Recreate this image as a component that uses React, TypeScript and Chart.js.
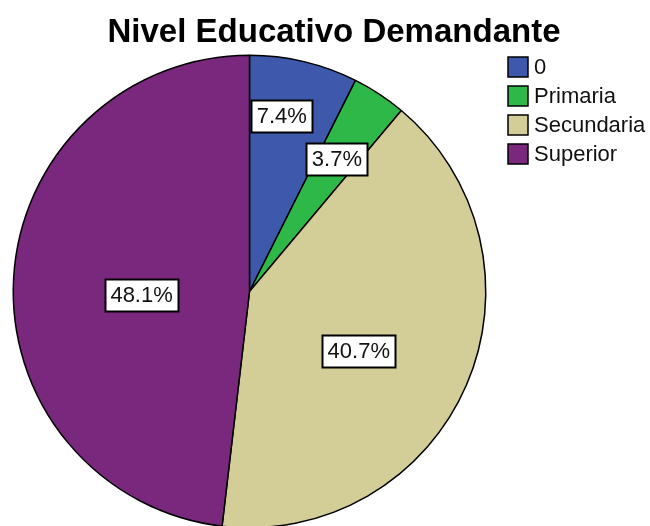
import React, { useEffect, useRef } from "react";
import { Chart, registerables } from "chart.js";

Chart.register(...registerables);

const TITLE = "Nivel Educativo Demandante";
const CATEGORIES = ["0", "Primaria", "Secundaria", "Superior"];
const PERCENTS = [7.4, 3.7, 40.7, 48.1];
const LABELS = ["7.4%", "3.7%", "40.7%", "48.1%"];
const COLORS = ["#3E58AC", "#2EB848", "#D3CE97", "#79287D"];

// label placement inside each slice: fraction along the arc angle, fraction of radius
const LABEL_ANGLE_FRAC = [0.39, 0.5, 0.536, 0.47];
const LABEL_RADIUS_FRAC = [0.757, 0.673, 0.527, 0.457];

const FONT = "'Liberation Sans', Arial, sans-serif";

const overlayPlugin = {
  id: "overlay",
  afterDraw(chart: any) {
    const ctx = chart.ctx as CanvasRenderingContext2D;
    ctx.save();
    // title
    ctx.fillStyle = "#000";
    ctx.font = `bold 33px ${FONT}`;
    ctx.textAlign = "center";
    ctx.textBaseline = "alphabetic";
    ctx.fillText(TITLE, 334, 42);

    // legend
    ctx.font = `22px ${FONT}`;
    ctx.textAlign = "left";
    ctx.textBaseline = "middle";
    CATEGORIES.forEach((c, i) => {
      const cy = 67 + i * 29;
      ctx.fillStyle = COLORS[i];
      ctx.fillRect(508, cy - 10, 20, 20);
      ctx.strokeStyle = "#000";
      ctx.lineWidth = 1.5;
      ctx.strokeRect(508, cy - 10, 20, 20);
      ctx.fillStyle = "#111";
      ctx.fillText(c, 534, cy + 1);
    });

    // slice labels
    const meta = chart.getDatasetMeta(0);
    ctx.font = `22px ${FONT}`;
    ctx.textAlign = "center";
    ctx.textBaseline = "middle";
    meta.data.forEach((arc: any, i: number) => {
      const p = arc.getProps(["x", "y", "startAngle", "endAngle", "outerRadius"], true);
      const a = p.startAngle + (p.endAngle - p.startAngle) * LABEL_ANGLE_FRAC[i];
      const r = p.outerRadius * LABEL_RADIUS_FRAC[i];
      const lx = p.x + Math.cos(a) * r;
      const ly = p.y + Math.sin(a) * r;
      const tw = ctx.measureText(LABELS[i]).width;
      const bw = Math.round(tw + 11);
      const bh = 32;
      const bx = Math.round(lx - bw / 2) + 0.5;
      const by = Math.round(ly - bh / 2) + 0.5;
      ctx.fillStyle = "#fff";
      ctx.fillRect(bx, by, bw, bh);
      ctx.strokeStyle = "#000";
      ctx.lineWidth = 2;
      ctx.strokeRect(bx, by, bw, bh);
      ctx.fillStyle = "#111";
      ctx.fillText(LABELS[i], lx, ly + 1);
    });
    ctx.restore();
  },
};

export default function App() {
  const ref = useRef<HTMLCanvasElement | null>(null);
  useEffect(() => {
    if (!ref.current) return;
    const chart = new Chart(ref.current, {
      type: "pie",
      data: {
        labels: CATEGORIES,
        datasets: [
          {
            data: PERCENTS,
            backgroundColor: COLORS,
            borderColor: "#000",
            borderWidth: 1.5,
          },
        ],
      },
      options: {
        responsive: false,
        animation: false,
        layout: { padding: { left: 12.5, top: 54.5, right: 163.5, bottom: 11.5 } },
        plugins: {
          legend: { display: false },
          title: { display: false },
          tooltip: { enabled: false },
        },
      },
      plugins: [overlayPlugin],
    });
    return () => chart.destroy();
  }, []);
  return (
    <div
      style={{
        position: "fixed",
        left: 0,
        top: 0,
        width: 650,
        height: 526,
        overflow: "hidden",
        background: "#fff",
      }}
    >
      <canvas ref={ref} width={650} height={540} style={{ display: "block" }} />
    </div>
  );
}
